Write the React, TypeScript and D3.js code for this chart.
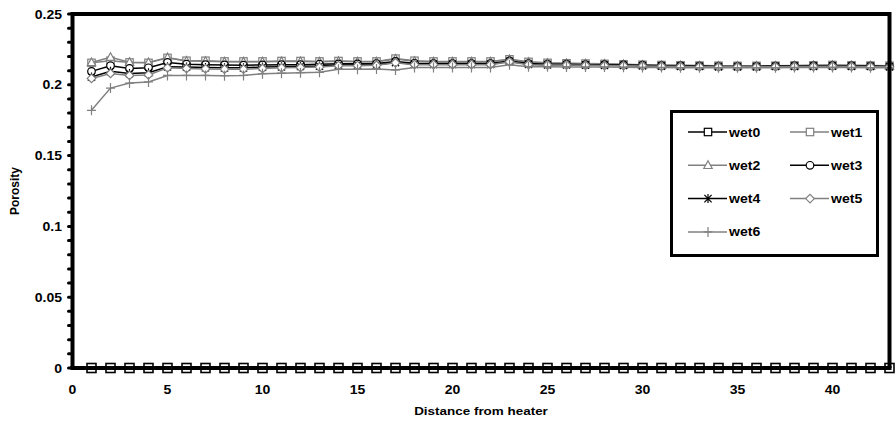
import React from "react";
import * as d3 from "d3";

// Distance positions (1..43) and porosity per wetting stage
const distance = d3.range(1, 44);

const wet0 = distance.map(() => 0);
const wet1 = [0.2155, 0.217, 0.2158, 0.2155, 0.219, 0.217, 0.217, 0.2165, 0.2165, 0.2165,
  0.2168, 0.2168, 0.2165, 0.2168, 0.2165, 0.2165, 0.2185, 0.217, 0.2165, 0.2165,
  0.2165, 0.2165, 0.218, 0.2162, 0.2155, 0.2152, 0.215, 0.2148, 0.2145, 0.2142,
  0.214, 0.2138, 0.2136, 0.2135, 0.2134, 0.2134, 0.2135, 0.2137, 0.2138, 0.214,
  0.2138, 0.2136, 0.2135];
const wet2 = [0.2158, 0.2195, 0.216, 0.2158, 0.2192, 0.2168, 0.2166, 0.2162, 0.2162, 0.2163,
  0.2165, 0.2165, 0.2163, 0.2166, 0.2163, 0.2163, 0.2183, 0.2167, 0.2162, 0.2162,
  0.2162, 0.2162, 0.2178, 0.216, 0.2152, 0.215, 0.2148, 0.2146, 0.2143, 0.214,
  0.2138, 0.2136, 0.2134, 0.2133, 0.2132, 0.2132, 0.2133, 0.2135, 0.2136, 0.2138,
  0.2136, 0.2134, 0.2133];
const wet3 = [0.2095, 0.2135, 0.2115, 0.212, 0.2158, 0.2145, 0.2142, 0.214, 0.2138, 0.214,
  0.2142, 0.2142, 0.2145, 0.2148, 0.2148, 0.215, 0.2165, 0.2152, 0.215, 0.215,
  0.215, 0.215, 0.2168, 0.215, 0.2145, 0.2145, 0.2142, 0.2142, 0.214, 0.2138,
  0.2135, 0.2133, 0.2132, 0.213, 0.213, 0.213, 0.2132, 0.2133, 0.2133, 0.2135,
  0.2133, 0.2132, 0.213];
const wet4 = [0.2055, 0.2095, 0.208, 0.2085, 0.2128, 0.2125, 0.2122, 0.212, 0.212, 0.2125,
  0.2128, 0.213, 0.2132, 0.214, 0.214, 0.2142, 0.2158, 0.2145, 0.2145, 0.2145,
  0.2145, 0.2145, 0.2165, 0.2145, 0.2142, 0.2142, 0.214, 0.2138, 0.2137, 0.2135,
  0.2133, 0.2131, 0.213, 0.2128, 0.2128, 0.2128, 0.213, 0.2131, 0.2131, 0.2133,
  0.2131, 0.213, 0.2128];
const wet5 = [0.2045, 0.208, 0.2066, 0.207, 0.212, 0.2115, 0.2112, 0.211, 0.211, 0.2115,
  0.212, 0.2122, 0.2125, 0.2135, 0.2135, 0.2138, 0.2155, 0.2142, 0.2142, 0.2142,
  0.2142, 0.2142, 0.2162, 0.2142, 0.214, 0.214, 0.2138, 0.2136, 0.2135, 0.2133,
  0.2131, 0.213, 0.2128, 0.2127, 0.2127, 0.2127, 0.2128, 0.213, 0.213, 0.2131,
  0.213, 0.2128, 0.2127];
const wet6 = [0.182, 0.1977, 0.2012, 0.202, 0.2066, 0.2066, 0.2066, 0.2064, 0.2066, 0.2078,
  0.2082, 0.2085, 0.2088, 0.211, 0.211, 0.2112, 0.2105, 0.2122, 0.2122, 0.2122,
  0.2122, 0.2122, 0.2142, 0.2128, 0.2128, 0.2126, 0.2125, 0.2125, 0.2124, 0.2123,
  0.2122, 0.2121, 0.212, 0.212, 0.212, 0.212, 0.2121, 0.2122, 0.2122, 0.2123,
  0.2122, 0.2121, 0.212];

const seriesNames = ["wet0", "wet1", "wet2", "wet3", "wet4", "wet5", "wet6"];
const seriesValues = [wet0, wet1, wet2, wet3, wet4, wet5, wet6];
const seriesColors = ["#000000", "#808080", "#808080", "#000000", "#000000", "#808080", "#808080"];
const seriesShapes = ["square", "square", "triangle", "circle", "star", "diamond", "plus"];

const yTicks = [0, 0.05, 0.1, 0.15, 0.2, 0.25];
const yTickLabels = ["0", "0.05", "0.1", "0.15", "0.2", "0.25"];
const xTicks = [0, 5, 10, 15, 20, 25, 30, 35, 40];

const W = 896;
const H = 427;
const left = 72.5;
const right = 889.5;
const top = 14;
const bottom = 368;

const FONT = "'Liberation Sans', Arial, sans-serif";
const STRETCH = 1.17; // horizontal widening of the lettering

function Marker({ shape, x, y, color, big }: { shape: string; x: number; y: number; color: string; big?: boolean }) {
  const sw = big ? 1.6 : 1.2;
  const h = big ? 4.5 : 3.7;
  switch (shape) {
    case "square":
      return <rect x={x - h} y={y - h} width={2 * h} height={2 * h} fill="#fff" stroke={color} strokeWidth={sw} />;
    case "triangle":
      return (
        <path d={`M${x},${y - 4.5}L${x + 4.2},${y + 3.2}L${x - 4.2},${y + 3.2}Z`} fill="#fff" stroke={color} strokeWidth={sw} />
      );
    case "circle":
      return <circle cx={x} cy={y} r={3.8} fill="#fff" stroke={color} strokeWidth={sw} />;
    case "diamond":
      return <path d={`M${x},${y - 4.3}L${x + 4.3},${y}L${x},${y + 4.3}L${x - 4.3},${y}Z`} fill="#fff" stroke={color} strokeWidth={sw} />;
    case "star":
      return (
        <path
          d={`M${x - 3.6},${y - 3.8}L${x + 3.6},${y + 3.8}M${x - 3.6},${y + 3.8}L${x + 3.6},${y - 3.8}M${x},${y - 4.5}L${x},${y + 4.5}`}
          stroke={color}
          strokeWidth={sw}
          fill="none"
        />
      );
    case "plus":
    default:
      return <path d={`M${x - 4.5},${y}L${x + 4.5},${y}M${x},${y - 5}L${x},${y + 5}`} stroke={color} strokeWidth={sw} fill="none" />;
  }
}

function Label({ x, y, anchor, size, children }: { x: number; y: number; anchor?: string; size: number; children: React.ReactNode }) {
  return (
    <text
      transform={`translate(${x},${y}) scale(${STRETCH},1)`}
      textAnchor={anchor || "start"}
      fontSize={size}
      fontWeight="bold"
    >
      {children}
    </text>
  );
}

export default function App() {
  const x = d3.scaleLinear().domain([0, 43]).range([left, right]);
  const y = d3.scaleLinear().domain([0, 0.25]).range([bottom, top]);
  const line = d3
    .line<number>()
    .x((_, i) => x(distance[i]))
    .y((d) => y(d));

  const minorY = d3.range(0, 26).map((i) => i / 100);

  const legendRows = [
    [0, 1],
    [2, 3],
    [4, 5],
    [6],
  ];
  const legendX = [708, 810];
  const legendY0 = 132;
  const legendDy = 33.3;

  return (
    <svg width={W} height={H} style={{ position: "absolute", left: 0, top: 0, background: "#fff" }} fontFamily={FONT}>
      <rect x={0} y={0} width={W} height={H} fill="#fff" />

      {/* series: line then markers */}
      {seriesValues.map((vals, si) => (
        <g key={seriesNames[si]}>
          <path d={line(vals) || ""} fill="none" stroke={seriesColors[si]} strokeWidth={1.5} />
          {vals.map((v, i) => (
            <Marker key={i} shape={seriesShapes[si]} x={x(distance[i])} y={y(v)} color={seriesColors[si]} big={si === 0} />
          ))}
        </g>
      ))}

      {/* frame and axes */}
      <path d={`M${left},${bottom}V${top}H${right}V${bottom}`} fill="none" stroke="#000" strokeWidth={4} />
      <line x1={left - 2} x2={right + 2} y1={bottom} y2={bottom} stroke="#000" strokeWidth={4} />

      {/* y minor ticks */}
      {minorY.map((t) => (
        <line key={t} x1={left - 4} x2={left} y1={y(t)} y2={y(t)} stroke="#000" strokeWidth={3} strokeLinecap="round" />
      ))}

      {/* y tick labels */}
      {yTicks.map((t, i) => (
        <Label key={t} x={62} y={y(t) + 4.5} anchor="end" size={12}>
          {yTickLabels[i]}
        </Label>
      ))}

      {/* x tick labels */}
      {xTicks.map((t) => (
        <Label key={t} x={x(t)} y={394} anchor="middle" size={12}>
          {t}
        </Label>
      ))}

      {/* axis titles */}
      <Label x={481} y={415} anchor="middle" size={11.5}>
        Distance from heater
      </Label>
      <text transform={`translate(19,${(top + bottom) / 2}) rotate(-90)`} textAnchor="middle" fontSize={12} fontWeight="bold">
        Porosity
      </text>

      {/* legend */}
      <rect x={671.5} y={111.5} width={206} height={144} fill="#fff" stroke="#000" strokeWidth={3} />
      {legendRows.map((row, ri) =>
        row.map((si, ci) => {
          const cx = legendX[ci];
          const cy = legendY0 + ri * legendDy;
          return (
            <g key={seriesNames[si]}>
              <line x1={cx - 20} x2={cx + 19} y1={cy} y2={cy} stroke={seriesColors[si]} strokeWidth={1.5} />
              <Marker shape={seriesShapes[si]} x={cx} y={cy} color={seriesColors[si]} />
              <Label x={cx + 21} y={cy + 4.5} size={12}>
                {seriesNames[si]}
              </Label>
            </g>
          );
        })
      )}
    </svg>
  );
}
